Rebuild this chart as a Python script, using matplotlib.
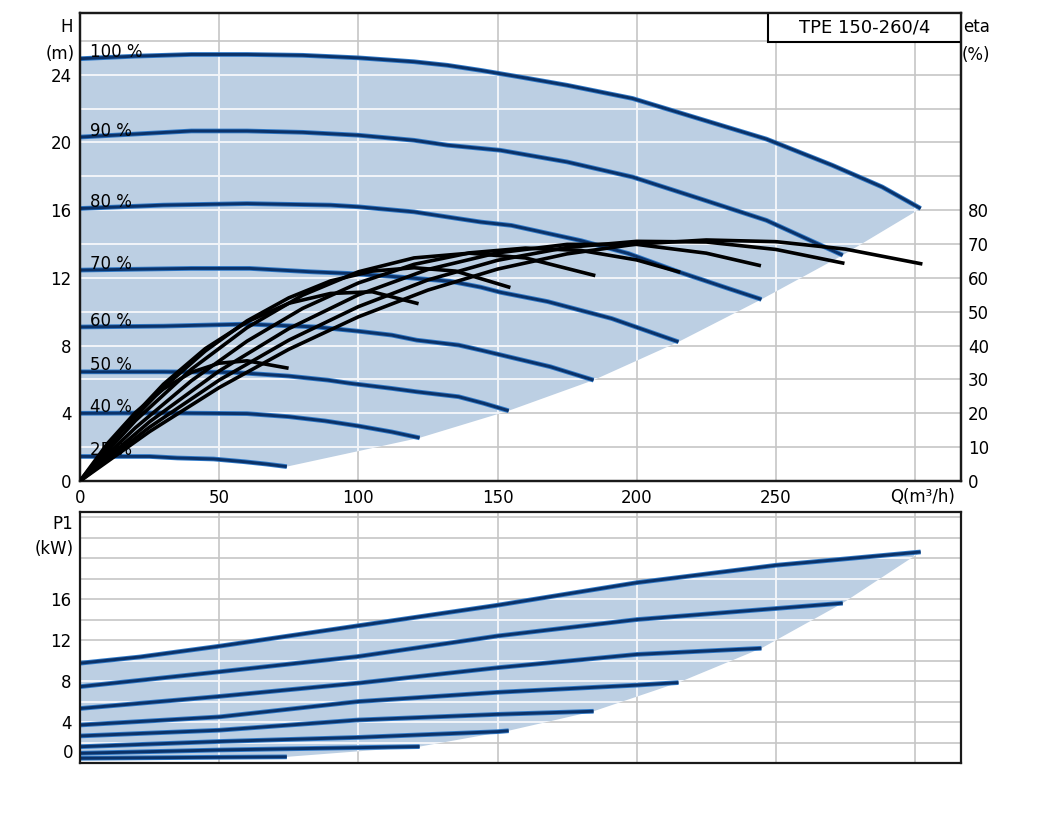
import matplotlib.pyplot as plt
from matplotlib.patches import Polygon, Rectangle

plt.rcParams['font.family'] = ['DejaVu Sans']

speeds = ['100 %', '90 %', '80 %', '70 %', '60 %', '50 %', '40 %', '25 %']

# head H (m) against flow Q (m3/h), one list per speed
q_head = [
    [0, 20, 40, 60, 80, 100, 120, 132, 144, 158, 175, 198.5, 222.5, 246.6, 270.3, 288.2, 302],
    [0, 20, 40, 60, 80, 100, 120, 132, 151, 175, 198.5, 222.5, 246.6, 274],
    [0, 30, 60, 90, 100, 120, 144, 155, 180, 197, 215, 233, 244.8],
    [0, 15, 40, 61, 83, 97, 115, 133, 144, 151, 168, 191, 215],
    [0, 30, 60, 85, 100, 112, 121, 136, 144, 169, 184.5],
    [0, 30, 55, 75, 89, 97, 112, 121, 136, 145, 154],
    [0, 30, 60, 75, 88, 100, 112, 122],
    [0, 25, 35, 48, 59, 67, 74.3],
]
h_head = [
    [24.95, 25.1, 25.2, 25.2, 25.15, 25.0, 24.77, 24.56, 24.26, 23.87, 23.38, 22.6, 21.4, 20.2, 18.65, 17.37, 16.1],
    [20.32, 20.5, 20.68, 20.68, 20.6, 20.43, 20.13, 19.84, 19.54, 18.85, 17.96, 16.69, 15.4, 13.34],
    [16.1, 16.3, 16.39, 16.3, 16.2, 15.9, 15.3, 15.1, 14.2, 13.44, 12.36, 11.37, 10.73],
    [12.46, 12.5, 12.56, 12.56, 12.36, 12.26, 12.05, 11.8, 11.45, 11.15, 10.6, 9.6, 8.22],
    [9.1, 9.15, 9.27, 9.1, 8.85, 8.62, 8.32, 8.03, 7.73, 6.75, 5.96],
    [6.45, 6.45, 6.42, 6.2, 5.96, 5.77, 5.47, 5.27, 4.98, 4.59, 4.15],
    [4.0, 4.02, 3.98, 3.8, 3.55, 3.25, 2.9, 2.55],
    [1.45, 1.45, 1.36, 1.3, 1.14, 1.0, 0.85],
]

# efficiency eta (%) against Q
q_eta = [
    [0, 25, 50, 75, 100, 125, 150, 175, 200, 225, 250, 275, 302],
    [0, 25, 50, 75, 100, 125, 150, 175, 200, 225, 250, 274],
    [0, 25, 50, 75, 100, 125, 150, 175, 200, 225, 244],
    [0, 20, 40, 60, 80, 100, 120, 140, 160, 180, 200, 215],
    [0, 20, 40, 60, 80, 100, 120, 140, 160, 184.5],
    [0, 15, 30, 45, 60, 75, 90, 105, 120, 135, 154],
    [0, 15, 30, 45, 60, 75, 90, 105, 121],
    [0, 10, 20, 30, 40, 50, 60, 74.3],
]
eta = [
    [0, 14.6, 27.6, 38.9, 48.5, 56.4, 62.6, 67.1, 70.0, 71.2, 70.7, 68.5, 64.2],
    [0, 15.9, 29.8, 41.6, 51.5, 59.4, 65.2, 69.0, 70.8, 70.6, 68.4, 64.4],
    [0, 17.5, 32.5, 45.0, 55.0, 62.5, 67.4, 69.9, 69.9, 67.3, 63.7],
    [0, 15.8, 29.6, 41.3, 51.0, 58.5, 64.0, 67.4, 68.8, 68.1, 65.3, 61.8],
    [0, 17.9, 33.0, 45.3, 54.9, 61.8, 65.9, 67.3, 65.9, 60.8],
    [0, 14.8, 27.6, 38.4, 47.3, 54.1, 59.1, 62.0, 63.0, 62.0, 57.3],
    [0, 15.5, 28.6, 39.1, 47.0, 52.5, 55.4, 55.9, 52.5],
    [0, 11.2, 20.3, 27.2, 32.1, 34.8, 35.5, 33.4],
]

# input power P1 (kW) against Q
q_p1 = [
    [0, 21.5, 50, 100, 150, 200, 250, 302],
    [0, 50, 100, 150, 200, 237, 274],
    [0, 50, 100, 150, 200, 244.8],
    [0, 50, 100, 150, 200, 215],
    [0, 50, 100, 150, 184.5],
    [0, 50, 100, 150, 154],
    [0, 50, 100, 122],
    [0, 50, 74.3],
]
p1 = [
    [9.74, 10.35, 11.4, 13.4, 15.4, 17.6, 19.3, 20.6],
    [7.45, 8.9, 10.4, 12.4, 14.0, 14.8, 15.6],
    [5.32, 6.5, 7.8, 9.3, 10.6, 11.2],
    [3.71, 4.5, 6.0, 6.9, 7.6, 7.85],
    [2.64, 3.2, 4.2, 4.75, 5.05],
    [1.59, 2.1, 2.5, 3.06, 3.15],
    [0.95, 1.27, 1.5, 1.6],
    [0.46, 0.56, 0.6],
]

q_ticks = [0, 50, 100, 150, 200, 250]
h_ticks = [0, 4, 8, 12, 16, 20, 24]
eta_ticks = [0, 10, 20, 30, 40, 50, 60, 70, 80]
p1_ticks = [4, 8, 12, 16]

W, H = 1039, 824
FILL = '#bccfe3'
GRID = '#c6c6c6'
LINE_DARK = '#0b3268'
LINE_LIGHT = '#2f79c8'


def px(x, y):
    return x / W, 1 - y / H


def envelope(qs, vs):
    # region between the top and bottom speed curve, closed along the end points
    xs = list(qs[0]) + [q[-1] for q in qs[1:]] + list(qs[-1][::-1])
    ys = list(vs[0]) + [v[-1] for v in vs[1:]] + list(vs[-1][::-1])
    return list(zip(xs, ys))


def grid_and_fill(ax, pts, yvals, xvals):
    for y in yvals:
        ax.axhline(y, color=GRID, lw=1.2, zorder=0.5)
    for x in xvals:
        ax.axvline(x, color=GRID, lw=1.2, zorder=0.5)
    patch = Polygon(pts, closed=True, facecolor=FILL, edgecolor='none', zorder=1)
    ax.add_patch(patch)
    # grid lines turn white inside the shaded operating range
    for y in yvals:
        ln = ax.axhline(y, color='#f2f5f9', lw=1.4, zorder=1.5)
        ln.set_clip_path(patch)
    for x in xvals:
        ln = ax.axvline(x, color='#f2f5f9', lw=1.4, zorder=1.5)
        ln.set_clip_path(patch)


def speed_line(ax, q, v):
    ax.plot(q, v, color=LINE_LIGHT, lw=3.4, solid_capstyle='butt', zorder=2)
    ax.plot(q, v, color=LINE_DARK, lw=2.1, solid_capstyle='butt', zorder=2.1)


fig = plt.figure(figsize=(W / 100, H / 100), dpi=100)
ax = fig.add_axes([80 / W, 1 - 481 / H, 881 / W, 468 / H])
ax_p = fig.add_axes([80 / W, 1 - 763 / H, 881 / W, 251 / H])

h_max = 27.65
q_max = 316.5
grid_x = [50, 100, 150, 200, 250, 300]

# --- head / efficiency panel ---
ax.set_xlim(0, q_max)
ax.set_ylim(0, h_max)
grid_and_fill(ax, envelope(q_head, h_head), range(2, 27, 2), grid_x)
for lbl, q, h in zip(speeds, q_head, h_head):
    speed_line(ax, q, h)
    ax.text(3.6, h[0] + 0.08, lbl, fontsize=12, ha='left', va='baseline', zorder=2.5)

ax_eta = ax.twinx()
ax_eta.set_ylim(0, h_max * 5)
for q, e in zip(q_eta, eta):
    ax_eta.plot(q, e, color='black', lw=2.6, zorder=3)

ax.set_xticks(q_ticks)
ax.set_yticks(h_ticks)
ax_eta.set_yticks(eta_ticks)
ax.tick_params(length=0, labelsize=12, pad=6)
ax_eta.tick_params(length=0, labelsize=12, pad=5)
ax.annotate('Q(m³/h)', xy=(0.993, 0), xycoords='axes fraction', xytext=(0, -5),
            textcoords='offset points', ha='right', va='top', fontsize=12)

# model box in the top right corner
x0 = (768 - 80) / 881
y0 = 1 - (42 - 13) / 468
ax.add_patch(Rectangle((x0, y0), 1 - x0, 1 - y0, transform=ax.transAxes,
                       facecolor='white', edgecolor='black', lw=1.5, zorder=5))
ax.text((x0 + 1) / 2, (y0 + 1) / 2, 'TPE 150-260/4', transform=ax.transAxes,
        ha='center', va='center', fontsize=13, zorder=6)

# --- power panel ---
ax_p.set_xlim(0, q_max)
ax_p.set_ylim(0, 24.5)
grid_and_fill(ax_p, envelope(q_p1, p1), range(2, 25, 2), grid_x)
for q, p in zip(q_p1, p1):
    speed_line(ax_p, q, p)
ax_p.set_xticks([])
ax_p.set_yticks(p1_ticks)
ax_p.tick_params(length=0, labelsize=12, pad=6)
fig.text(*px(73, 753), '0', ha='right', va='center', fontsize=12)

for a in (ax, ax_eta, ax_p):
    for s in a.spines.values():
        s.set_linewidth(1.6)
        s.set_color('#1a1a1a')

# axis captions
fig.text(*px(73, 27), 'H', ha='right', va='center', fontsize=12)
fig.text(*px(75, 54), '(m)', ha='right', va='center', fontsize=12)
fig.text(*px(963, 27), 'eta', ha='left', va='center', fontsize=12)
fig.text(*px(962, 55), '(%)', ha='left', va='center', fontsize=12)
fig.text(*px(73, 524), 'P1', ha='right', va='center', fontsize=12)
fig.text(*px(74, 549), '(kW)', ha='right', va='center', fontsize=12)

fig.savefig('out.png', dpi=100)
